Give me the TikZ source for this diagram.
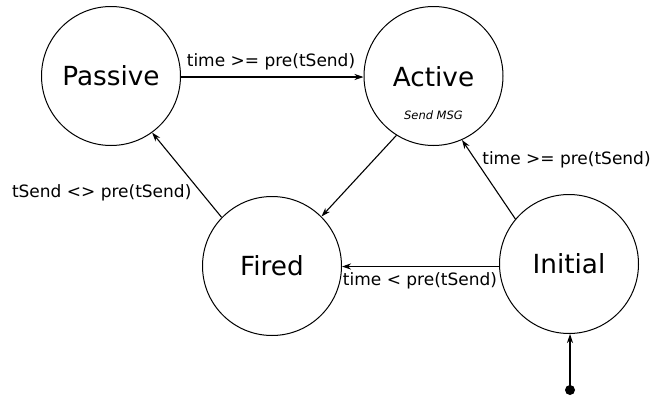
\documentclass[tikz,border=0pt]{standalone}
\usepackage{fontspec}
\setmainfont{DejaVu Sans}
\usetikzlibrary{arrows.meta}
\begin{document}
\begin{tikzpicture}[x=1pt,y=-1pt,
  state/.style={circle,draw,line width=1pt,minimum size=139pt,inner sep=0pt,
    font=\fontsize{26.3}{30}\selectfont},
  trans/.style={draw,line width=1.1pt,-{Stealth[length=9pt,width=6pt]}},
  lbl/.style={font=\fontsize{17}{20}\selectfont,inner sep=0pt},
  note/.style={font=\fontsize{11.5}{13}\selectfont\itshape,inner sep=0pt}]
\useasboundingbox (0,0) rectangle (651,399);

% states
\node[state] (passive) at (111,76) {Passive};
\node[state] (active)  at (433.5,76) {};
\node[font=\fontsize{26.3}{30}\selectfont,inner sep=0pt] (activeName) at (433.5,77) {Active};
\node[note] (activeNote) at (433.5,115) {Send MSG};
\node[state] (fired)   at (272,266) {Fired};
\node[state] (initial) at (569,264) {Initial};

% initial pseudo-state
\node[circle,fill,inner sep=0pt,minimum size=10pt] (start) at (570,390) {};

% transitions
\draw[trans] (passive.east |- 0,77) -- (active.west |- 0,77);
\draw[trans] (active.238.8) -- (fired.45.7);
\draw[trans] (fired.136.9) -- (passive.306.9);
\draw[trans] (initial.140.3) -- (active.294.4);
\draw[trans] (initial.west |- 0,266.5) -- (fired.east |- 0,266.5);
\draw[trans] (start.center) -- (initial.south -| start);

% guards
\node[lbl] (g1) at (271,62) {time >= pre(tSend)};
\node[lbl] (g2) at (101.7,193) {tSend <> pre(tSend)};
\node[lbl] (g3) at (566.5,160) {time >= pre(tSend)};
\node[lbl] (g4) at (420,281) {time < pre(tSend)};
\end{tikzpicture}
\end{document}
